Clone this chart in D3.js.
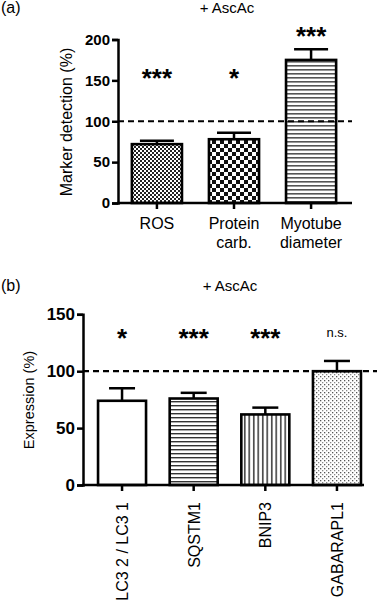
<!DOCTYPE html>
<html>
<head>
<meta charset="utf-8">
<script src="https://cdn.jsdelivr.net/npm/d3@7"></script>
<style>
  body { margin: 0; background: #fff; }
  svg { display: block; font-family: Arial, "Liberation Sans", sans-serif; }
</style>
</head>
<body>
<div id="chart"></div>
<script>
// Panel (a) data
const catsA = ["ROS", "Protein carb.", "Myotube diameter"];
const labelLinesA = [["ROS"], ["Protein", "carb."], ["Myotube", "diameter"]];
const valuesA = [72, 78, 175];
const errA = [4, 8, 13];
const sigA = ["***", "*", "***"];
const ticksA = [0, 50, 100, 150, 200];

// Panel (b) data
const catsB = ["LC3 2 / LC3 1", "SQSTM1", "BNIP3", "GABARAPL1"];
const valuesB = [74, 76, 62, 100];
const errB = [11, 5, 6, 9];
const sigB = ["*", "***", "***", "n.s."];
const ticksB = [0, 50, 100, 150];

const fillsA = ["url(#p-fine)", "url(#p-check)", "url(#p-hlines-gray)"];
const fillsB = ["#fff", "url(#p-hlines)", "url(#p-vlines)", "url(#p-dots)"];

const svg = d3.select("#chart").append("svg")
  .attr("width", 377).attr("height", 600);

// Fill patterns
const defs = svg.append("defs");
function pattern(id, w, h) {
  const p = defs.append("pattern").attr("id", id)
    .attr("patternUnits", "userSpaceOnUse").attr("width", w).attr("height", h);
  p.append("rect").attr("width", w).attr("height", h).attr("fill", "#fff");
  return p;
}
let p = pattern("p-fine", 4, 4);
p.append("rect").attr("width", 2).attr("height", 2).attr("fill", "#222");
p.append("rect").attr("x", 2).attr("y", 2).attr("width", 2).attr("height", 2).attr("fill", "#222");
p = pattern("p-check", 8, 8);
p.append("rect").attr("width", 4).attr("height", 4).attr("fill", "#111");
p.append("rect").attr("x", 4).attr("y", 4).attr("width", 4).attr("height", 4).attr("fill", "#111");
p = pattern("p-hlines-gray", 4, 4);
p.append("rect").attr("y", 1).attr("width", 4).attr("height", 1.6).attr("fill", "#555");
p = pattern("p-hlines", 4, 4);
p.append("rect").attr("y", 1).attr("width", 4).attr("height", 1.4).attr("fill", "#333");
p = pattern("p-vlines", 4.5, 4);
p.append("rect").attr("x", 1).attr("width", 1.5).attr("height", 4).attr("fill", "#333");
p = pattern("p-dots", 4, 4);
p.append("rect").attr("width", 1.3).attr("height", 1.3).attr("fill", "#555");
p.append("rect").attr("x", 2).attr("y", 2).attr("width", 1.3).attr("height", 1.3).attr("fill", "#888");

function panel(opts) {
  const g = svg.append("g");
  const x = d3.scaleBand().domain(opts.cats).range(opts.xRange)
    .paddingInner(opts.padIn).paddingOuter(opts.padOut);
  const y = d3.scaleLinear().domain(opts.yDomain).range(opts.yRange);
  const x0 = opts.xRange[0];

  // bars
  g.selectAll("rect.bar").data(opts.values).enter().append("rect")
    .attr("x", (d, i) => x(opts.cats[i]))
    .attr("y", d => y(d))
    .attr("width", x.bandwidth())
    .attr("height", d => y(0) - y(d))
    .attr("fill", (d, i) => opts.fills[i])
    .attr("stroke", "#000").attr("stroke-width", 2.6);

  // dashed reference line at 100
  g.append("line")
    .attr("x1", x0).attr("x2", opts.dashEnd)
    .attr("y1", y(100)).attr("y2", y(100))
    .attr("stroke", "#000").attr("stroke-width", 2.2)
    .attr("stroke-dasharray", "6,4");

  // error bars
  opts.values.forEach((v, i) => {
    const cx = x(opts.cats[i]) + x.bandwidth() / 2;
    g.append("line").attr("x1", cx).attr("x2", cx)
      .attr("y1", y(v)).attr("y2", y(v + opts.err[i]))
      .attr("stroke", "#000").attr("stroke-width", 2.5);
    g.append("line").attr("x1", cx - opts.cap).attr("x2", cx + opts.cap)
      .attr("y1", y(v + opts.err[i])).attr("y2", y(v + opts.err[i]))
      .attr("stroke", "#000").attr("stroke-width", 2.5);
  });

  // y axis
  const yAxis = g.append("g").attr("transform", `translate(${x0},0)`)
    .call(d3.axisLeft(y).tickValues(opts.ticks).tickSize(6).tickPadding(2));
  yAxis.select(".domain").attr("stroke-width", 2.5);
  yAxis.selectAll(".tick line").attr("stroke-width", 2.5);
  yAxis.selectAll(".tick text")
    .attr("font-size", opts.tickFont).attr("font-weight", "bold")
    .attr("font-family", "Arial, 'Liberation Sans', sans-serif").attr("fill", "#000");

  // x axis line and ticks
  g.append("line").attr("x1", x0 - 1).attr("x2", opts.axisEnd)
    .attr("y1", y(0)).attr("y2", y(0))
    .attr("stroke", "#000").attr("stroke-width", 2.5);
  opts.cats.forEach(c => {
    const cx = x(c) + x.bandwidth() / 2;
    g.append("line").attr("x1", cx).attr("x2", cx)
      .attr("y1", y(0)).attr("y2", y(0) + 6)
      .attr("stroke", "#000").attr("stroke-width", 2.5);
  });

  // significance marks
  opts.sig.forEach((s, i) => {
    const cx = x(opts.cats[i]) + x.bandwidth() / 2;
    const top = opts.values[i] + opts.err[i];
    const level = opts.sigLevel(top);
    const isStar = s.indexOf("*") >= 0;
    g.append("text")
      .attr("x", cx)
      .attr("y", y(level) + (isStar ? 15 : 5))
      .attr("text-anchor", "middle")
      .attr("font-size", isStar ? 26 : 13)
      .attr("font-weight", isStar ? "bold" : "normal")
      .text(s);
  });

  // y title
  g.append("text")
    .attr("transform", `translate(${opts.yTitleX},${opts.yTitleY}) rotate(-90)`)
    .attr("text-anchor", "middle")
    .attr("font-size", opts.yTitleFont)
    .text(opts.yTitle);

  // panel letter and title
  g.append("text").attr("x", 1).attr("y", opts.titleY)
    .attr("font-size", 16).text(opts.letter);
  g.append("text").attr("x", opts.titleX).attr("y", opts.titleY)
    .attr("text-anchor", "middle").attr("font-size", 15).text("+ AscAc");

  return { g, x, y };
}

// Panel (a)
const a = panel({
  cats: catsA, values: valuesA, err: errA, sig: sigA, fills: fillsA, ticks: ticksA,
  xRange: [118, 350], padIn: 0.35, padOut: 0.18,
  yDomain: [0, 200], yRange: [203, 39.5],
  dashEnd: 352, axisEnd: 352, cap: 17, tickFont: 15,
  sigLevel: top => top > 150 ? 212 : 160,
  yTitle: "Marker detection (%)", yTitleX: 72, yTitleY: 122, yTitleFont: 16,
  letter: "(a)", titleX: 227, titleY: 13
});
a.g.selectAll("text.xl").data(catsA).enter().each(function (c, i) {
  const cx = a.x(c) + a.x.bandwidth() / 2;
  labelLinesA[i].forEach((line, j) => {
    a.g.append("text").attr("x", cx).attr("y", 229 + j * 19)
      .attr("text-anchor", "middle").attr("font-size", 16).text(line);
  });
});

// Panel (b)
const b = panel({
  cats: catsB, values: valuesB, err: errB, sig: sigB, fills: fillsB, ticks: ticksB,
  xRange: [83, 376], padIn: 0.33, padOut: 0.21,
  yDomain: [0, 150], yRange: [485, 314.3],
  dashEnd: 377, axisEnd: 364, cap: 13, tickFont: 17,
  sigLevel: () => 134.5,
  yTitle: "Expression (%)", yTitleX: 34, yTitleY: 400, yTitleFont: 14.5,
  letter: "(b)", titleX: 230, titleY: 291
});
catsB.forEach(c => {
  const cx = b.x(c) + b.x.bandwidth() / 2;
  b.g.append("text")
    .attr("transform", `translate(${cx + 6},502) rotate(-90)`)
    .attr("text-anchor", "end")
    .attr("font-size", 16)
    .text(c);
});
</script>
</body>
</html>
